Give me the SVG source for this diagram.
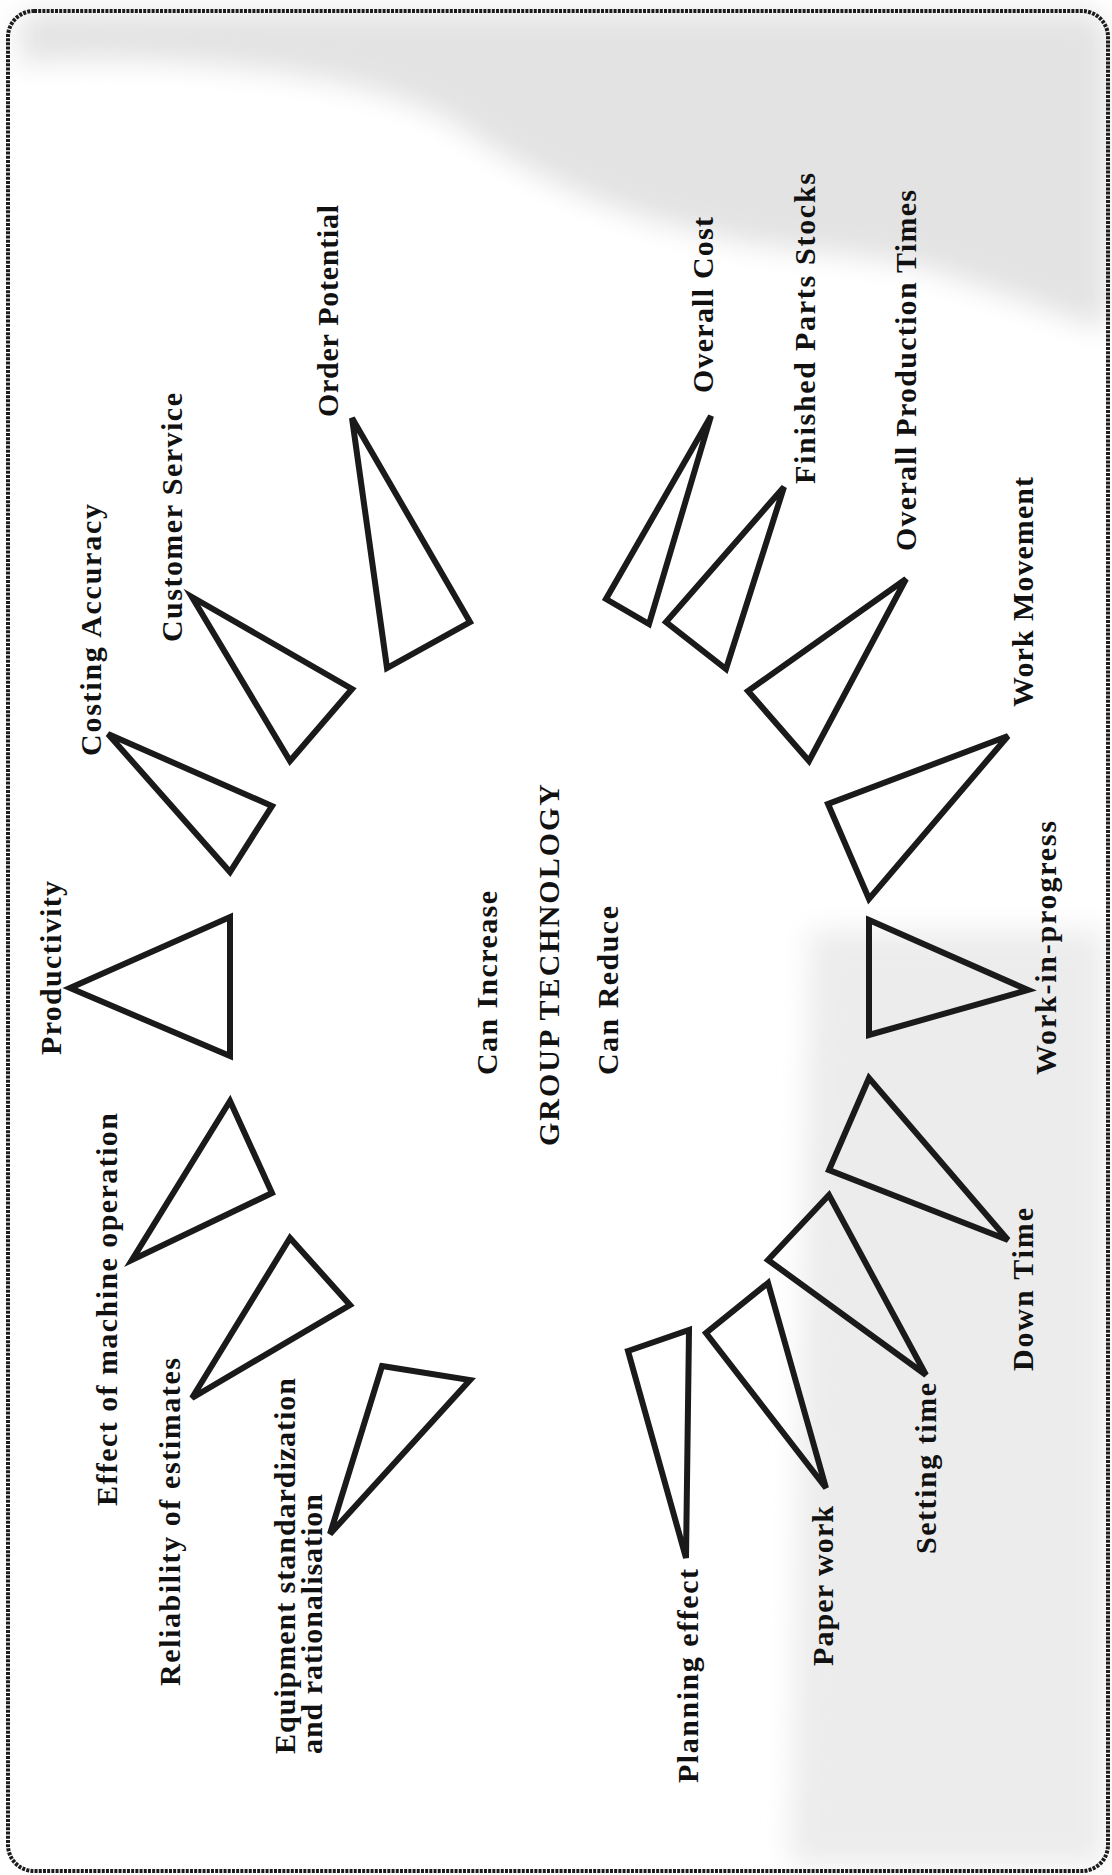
<svg xmlns="http://www.w3.org/2000/svg" width="1112" height="1875" viewBox="0 0 1112 1875">
<defs>
<style>
.tri{fill:none;stroke:#1a1a1a;stroke-width:6;stroke-linejoin:miter;stroke-miterlimit:4}
.lbl{font-family:"Liberation Serif","Times New Roman",serif;font-weight:bold;font-size:30px;fill:#111111}
.frame{fill:none;stroke:#1c1c1c;stroke-width:4;stroke-dasharray:3 1.2}
</style>
<filter id="soft" x="-10%" y="-10%" width="120%" height="120%"><feGaussianBlur stdDeviation="14"/></filter>
</defs>
<rect x="0" y="0" width="1112" height="1875" fill="#ffffff"/>
<g id="background" filter="url(#soft)">
<path d="M20 12 L1095 12 L1108 30 L1108 330 C1040 310 960 275 900 262 C820 250 760 250 700 232 C600 210 520 170 450 120 C380 85 300 72 200 64 C120 58 60 58 20 64 Z" fill="#e3e3e3"/>
<path d="M810 930 L1105 930 L1105 1866 L790 1866 Z" fill="#ececec"/>
</g>
<rect class="frame" x="8" y="11" width="1100" height="1860" rx="26" ry="26"/>
<g id="connectors"/>
<g id="center">
<text class="lbl" x="497" y="1075" transform="rotate(-90 497 1075)" textLength="184" lengthAdjust="spacing">Can Increase</text>
<text class="lbl" x="559" y="1146" transform="rotate(-90 559 1146)" textLength="362" lengthAdjust="spacing">GROUP  TECHNOLOGY</text>
<text class="lbl" x="618" y="1075" transform="rotate(-90 618 1075)" textLength="169" lengthAdjust="spacing">Can Reduce</text>
</g>
<g id="costing-accuracy">
<polygon class="tri" points="108,734 272,806 230,872"/>
<text class="lbl" x="101" y="756" transform="rotate(-90 101 756)" textLength="252" lengthAdjust="spacing">Costing Accuracy</text>
</g>
<g id="customer-service">
<polygon class="tri" points="192,597 352,689 290,761"/>
<text class="lbl" x="182" y="642" transform="rotate(-90 182 642)" textLength="249" lengthAdjust="spacing">Customer Service</text>
</g>
<g id="order-potential">
<polygon class="tri" points="352,418 470,622 387,668"/>
<text class="lbl" x="338" y="417" transform="rotate(-90 338 417)" textLength="212" lengthAdjust="spacing">Order Potential</text>
</g>
<g id="productivity">
<polygon class="tri" points="70,988 230,917 230,1056"/>
<text class="lbl" x="61" y="1055" transform="rotate(-90 61 1055)" textLength="174" lengthAdjust="spacing">Productivity</text>
</g>
<g id="effect-machine-operation">
<polygon class="tri" points="230,1101 272,1193 132,1260"/>
<text class="lbl" x="117" y="1506" transform="rotate(-90 117 1506)" textLength="393" lengthAdjust="spacing">Effect of machine operation</text>
</g>
<g id="reliability-estimates">
<polygon class="tri" points="290,1238 350,1305 192,1398"/>
<text class="lbl" x="180" y="1686" transform="rotate(-90 180 1686)" textLength="328" lengthAdjust="spacing">Reliability of estimates</text>
</g>
<g id="equipment-standardization">
<polygon class="tri" points="382,1366 470,1380 330,1534"/>
<text class="lbl" x="295" y="1754" transform="rotate(-90 295 1754)" textLength="376" lengthAdjust="spacing">Equipment standardization</text>
<text class="lbl" x="322" y="1754" transform="rotate(-90 322 1754)" textLength="260" lengthAdjust="spacing">and rationalisation</text>
</g>
<g id="overall-cost">
<polygon class="tri" points="711,416 606,599 649,624"/>
<text class="lbl" x="713" y="393" transform="rotate(-90 713 393)" textLength="176" lengthAdjust="spacing">Overall Cost</text>
</g>
<g id="finished-parts-stocks">
<polygon class="tri" points="784,487 666,622 726,669"/>
<text class="lbl" x="815" y="484" transform="rotate(-90 815 484)" textLength="311" lengthAdjust="spacing">Finished Parts Stocks</text>
</g>
<g id="overall-production-times">
<polygon class="tri" points="906,579 748,691 809,761"/>
<text class="lbl" x="916" y="551" transform="rotate(-90 916 551)" textLength="361" lengthAdjust="spacing">Overall Production Times</text>
</g>
<g id="work-movement">
<polygon class="tri" points="1008,736 828,804 869,899"/>
<text class="lbl" x="1033" y="707" transform="rotate(-90 1033 707)" textLength="230" lengthAdjust="spacing">Work Movement</text>
</g>
<g id="work-in-progress">
<polygon class="tri" points="869,920 1028,990 869,1035"/>
<text class="lbl" x="1056" y="1075" transform="rotate(-90 1056 1075)" textLength="254" lengthAdjust="spacing">Work-in-progress</text>
</g>
<g id="down-time">
<polygon class="tri" points="869,1078 829,1170 1008,1240"/>
<text class="lbl" x="1033" y="1371" transform="rotate(-90 1033 1371)" textLength="163" lengthAdjust="spacing">Down Time</text>
</g>
<g id="setting-time">
<polygon class="tri" points="829,1195 768,1260 926,1375"/>
<text class="lbl" x="936" y="1554" transform="rotate(-90 936 1554)" textLength="171" lengthAdjust="spacing">Setting time</text>
</g>
<g id="paper-work">
<polygon class="tri" points="768,1283 706,1333 826,1488"/>
<text class="lbl" x="833" y="1666" transform="rotate(-90 833 1666)" textLength="160" lengthAdjust="spacing">Paper work</text>
</g>
<g id="planning-effect">
<polygon class="tri" points="628,1351 689,1330 686,1558"/>
<text class="lbl" x="698" y="1783" transform="rotate(-90 698 1783)" textLength="214" lengthAdjust="spacing">Planning effect</text>
</g>
</svg>
